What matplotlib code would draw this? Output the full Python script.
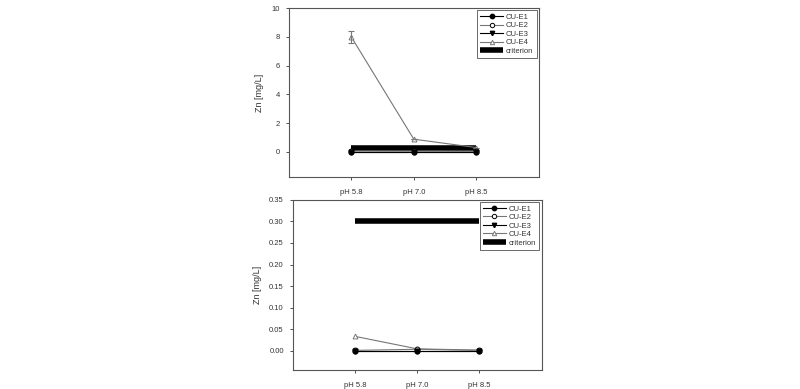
import matplotlib
matplotlib.use("Agg")
from matplotlib import pyplot as plt

plt.rcParams["font.family"] = ["Liberation Sans", "DejaVu Sans"]

ph_labels = ["pH 5.8", "pH 7.0", "pH 8.5"]
criterion = [0.3, 0.3, 0.3]

# top panel (mg/L)
top_e1 = [0.0, 0.0, 0.0]
top_e2 = [0.05, 0.04, 0.03]
top_e3 = [0.0, 0.0, 0.0]
top_e4 = [8.0, 0.88, 0.3]
top_e4_err = [0.42, 0.0, 0.0]

# bottom panel (mg/L)
bot_e1 = [0.0, 0.0, 0.0]
bot_e2 = [0.0005, 0.003, 0.0005]
bot_e3 = [0.0, 0.0, 0.0]
bot_e4 = [0.033, 0.004, 0.001]

GRID = "#555555"
GRAY = "#777777"


def draw_panel(ax, e1, e2, e3, e4, e4_err, ylim, yticks, fmt):
    x = [1, 2, 3]
    h1, = ax.plot(x, e1, color="black", lw=0.8, marker="o", ms=3.5, mfc="black",
                  mec="black", label="CU-E1", zorder=4)
    h2, = ax.plot(x, e2, color=GRAY, lw=0.8, marker="o", ms=3.5, mfc="white",
                  mec="black", mew=0.7, label="CU-E2", zorder=4)
    h3, = ax.plot(x, e3, color="black", lw=0.8, marker="v", ms=3.5, mfc="black",
                  mec="black", label="CU-E3", zorder=4)
    h4, = ax.plot(x, e4, color=GRAY, lw=0.8, marker="^", ms=3.5, mfc="white",
                  mec=GRAY, mew=0.7, label="CU-E4", zorder=3)
    if e4_err is not None:
        ax.errorbar(x, e4, yerr=e4_err, fmt="none", ecolor=GRAY, elinewidth=0.8,
                    capsize=2.5, capthick=0.8, zorder=3)
    h5, = ax.plot(x, criterion, color="black", lw=4, solid_capstyle="butt",
                  label="criterion", zorder=2)

    ax.set_xlim(0, 4)
    ax.set_ylim(*ylim)
    ax.set_xticks(x)
    ax.set_xticklabels(ph_labels)
    ax.set_yticks(yticks)
    ax.set_yticklabels([fmt.format(v) for v in yticks])
    ax.set_ylabel("Zn [mg/L]", fontsize=6.5, color="#333333", labelpad=5)
    ax.tick_params(axis="both", labelsize=5.5, colors="#333333", length=2.5,
                   width=0.6, pad=4, direction="out")
    ax.tick_params(axis="x", pad=6)
    for side in ["top", "right", "left", "bottom"]:
        ax.spines[side].set_color(GRID)
        ax.spines[side].set_linewidth(0.8)
    leg = ax.legend(handles=[h1, h2, h3, h4, h5], loc="upper right", fontsize=5.5,
                    frameon=True, fancybox=False, edgecolor="#444444",
                    handlelength=3.0, handletextpad=0.4, labelspacing=0.15,
                    borderpad=0.4, borderaxespad=0.3, markerscale=0.9)
    leg.get_frame().set_linewidth(0.7)
    for t in leg.get_texts():
        t.set_color("#333333")


fig = plt.figure(figsize=(8, 3.89), dpi=100)
ax_top = fig.add_axes([0.361, 0.545, 0.3125, 0.434])
ax_bot = fig.add_axes([0.366, 0.049, 0.311, 0.437])

draw_panel(ax_top, top_e1, top_e2, top_e3, top_e4, top_e4_err,
           (-1.75, 10), [0, 2, 4, 6, 8, 10], "{:g}")
draw_panel(ax_bot, bot_e1, bot_e2, bot_e3, bot_e4, None,
           (-0.045, 0.35), [0.0, 0.05, 0.10, 0.15, 0.20, 0.25, 0.30, 0.35], "{:.2f}")

fig.savefig("out.png", dpi=100)
